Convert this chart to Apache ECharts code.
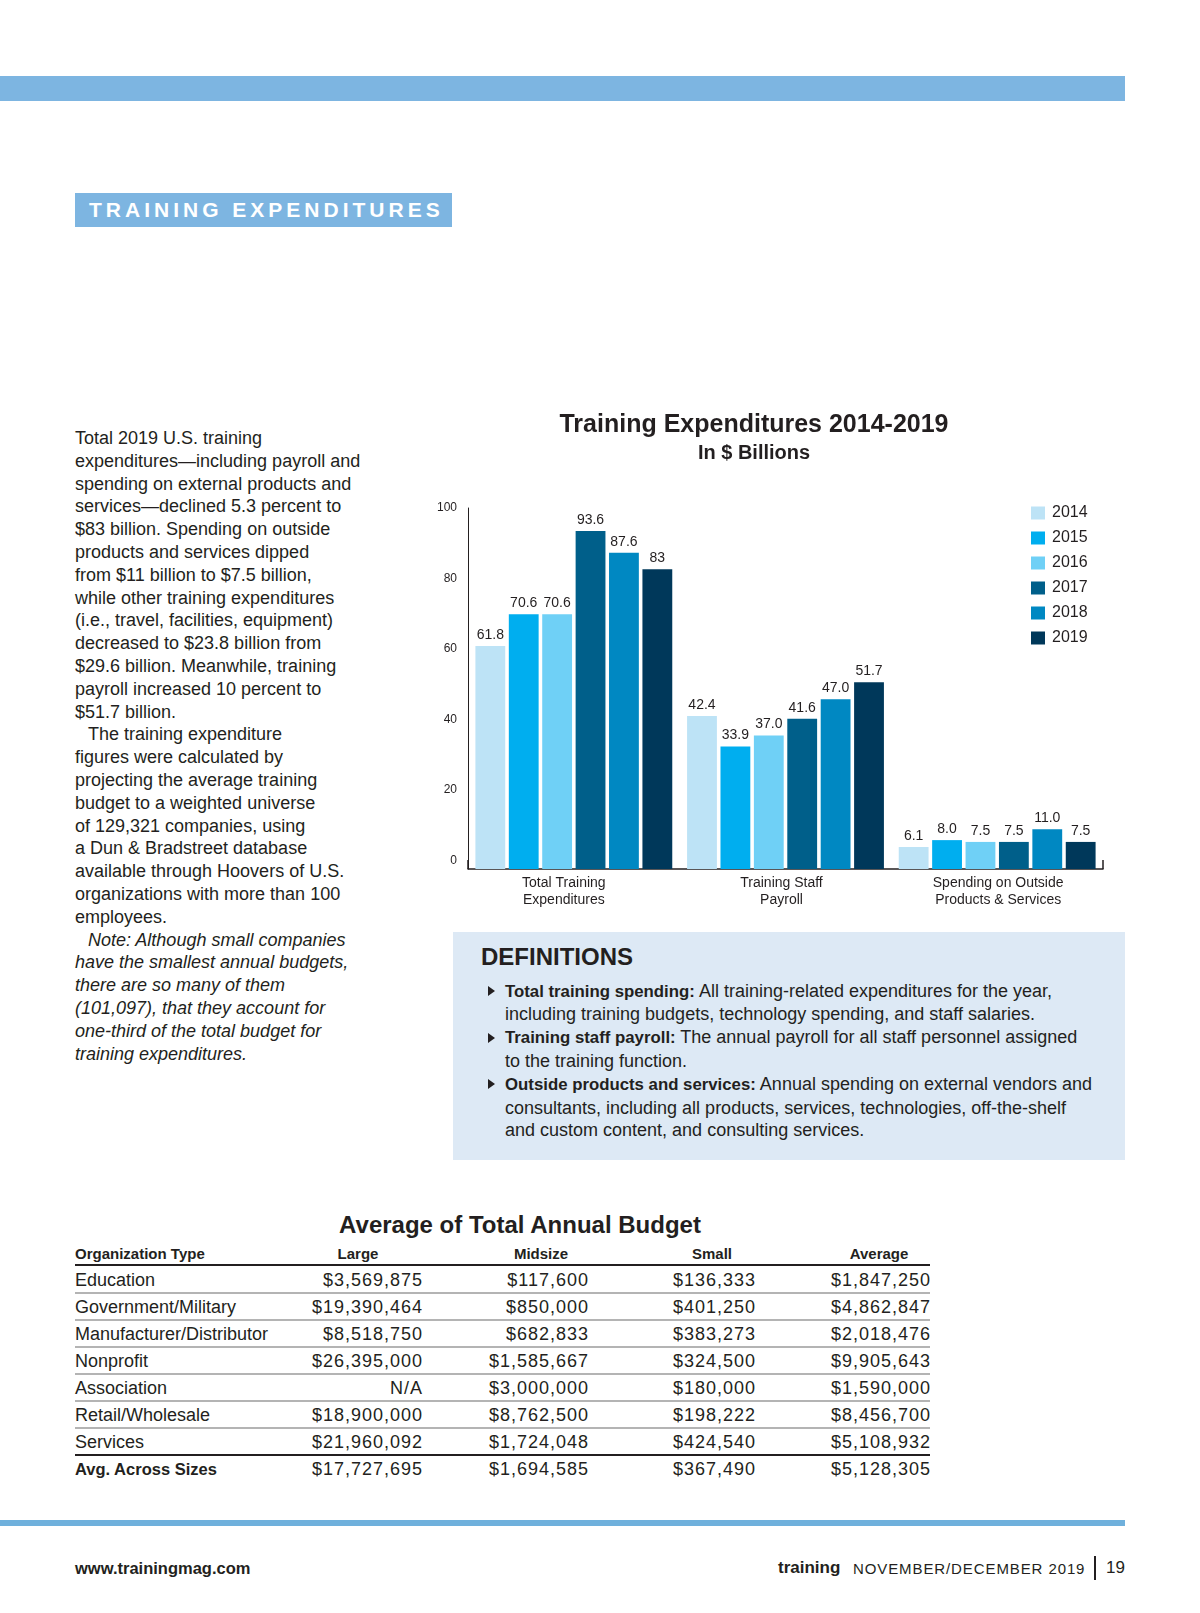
<!DOCTYPE html>
<html>
<head>
<meta charset="utf-8">
<script src="https://cdn.jsdelivr.net/npm/echarts@6/dist/echarts.min.js"></script>
<style>
  html, body { margin: 0; padding: 0; background: #fff; }
  body { width: 1200px; height: 1613px; position: relative; overflow: hidden;
         font-family: 'Liberation Sans', Arial, sans-serif; color: #231f20; }
  .abs { position: absolute; white-space: nowrap; }
  #topbar { left: 0; top: 76px; width: 1125px; height: 25px; background: #7db5e1; }
  #secbox { left: 75px; top: 193px; width: 377px; height: 34px; background: #7db5e1;
            color: #fff; font-weight: bold; font-size: 21px; line-height: 34px;
            letter-spacing: 4px; box-sizing: border-box; padding-left: 14px; }
  #body { left: 75px; top: 427px; font-size: 18px; line-height: 22.8px; }
  #body .ind { padding-left: 13px; }
  #defs { left: 453px; top: 932px; width: 672px; height: 228px; background: #dde9f5; }
  #defs h3 { position: absolute; margin: 0; left: 28px; top: 11px; font-size: 24px; line-height: 28px; font-weight: bold; }
  #defs .items { position: absolute; left: 0; top: 47.6px; font-size: 18px; line-height: 22.8px; }
  #defs .it { position: relative; padding-left: 52px; white-space: nowrap; }
  #defs .it b { font-size: 16.8px; }
  #defs .it::before { content: ''; position: absolute; left: 35px; top: 6.4px; width: 0; height: 0;
            border-left: 7px solid #231f20; border-top: 5px solid transparent; border-bottom: 5px solid transparent; }
  #chart { position: absolute; left: 308px; top: 390px; width: 892px; height: 530px; }
  .tt { font-weight: bold; font-size: 24px; line-height: 30px; }
  .th { font-weight: bold; font-size: 15px; line-height: 20px; }
  .td { font-size: 18px; line-height: 22px; }
  .num { letter-spacing: 1px; }
  .hl { position: absolute; left: 75px; width: 855px; }
  #botbar { left: 0; top: 1520px; width: 1125px; height: 6px; background: #6fb0dc; }
</style>
</head>
<body>
<div class="abs" id="topbar"></div>
<div class="abs" id="secbox">TRAINING EXPENDITURES</div>

<div class="abs" id="body">Total 2019 U.S. training<br>expenditures—including payroll and<br>spending on external products and<br>services—declined 5.3 percent to<br>$83 billion. Spending on outside<br>products and services dipped<br>from $11 billion to $7.5 billion,<br>while other training expenditures<br>(i.e., travel, facilities, equipment)<br>decreased to $23.8 billion from<br>$29.6 billion. Meanwhile, training<br>payroll increased 10 percent to<br>$51.7 billion.<br><span class="ind">The training expenditure</span><br>figures were calculated by<br>projecting the average training<br>budget to a weighted universe<br>of 129,321 companies, using<br>a Dun &amp; Bradstreet database<br>available through Hoovers of U.S.<br>organizations with more than 100<br>employees.<br><i><span class="ind">Note: Although small companies</span><br>have the smallest annual budgets,<br>there are so many of them<br>(101,097), that they account for<br>one-third of the total budget for<br>training expenditures.</i></div>

<div id="chart"></div>

<div class="abs" id="defs">
  <h3>DEFINITIONS</h3>
  <div class="items">
    <div class="it"><b>Total training spending:</b> All training-related expenditures for the year,<br>including training budgets, technology spending, and staff salaries.</div>
    <div class="it"><b>Training staff payroll:</b> The annual payroll for all staff personnel assigned<br>to the training function.</div>
    <div class="it"><b>Outside products and services:</b> Annual spending on external vendors and<br>consultants, including all products, services, technologies, off-the-shelf<br>and custom content, and consulting services.</div>
  </div>
</div>

<div id="table"></div>

<div class="abs" id="botbar"></div>
<div class="abs" style="left:75px; top:1558px; font-weight:bold; font-size:16.5px; line-height:20px;">www.trainingmag.com</div>
<div class="abs" style="left:778px; top:1557px; font-weight:bold; font-size:17px; line-height:22px;">training</div>
<div class="abs" style="left:853px; top:1559px; font-size:15px; line-height:20px; letter-spacing:0.9px;">NOVEMBER/DECEMBER 2019</div>
<div class="abs" style="left:1094px; top:1556px; width:1.5px; height:24px; background:#231f20;"></div>
<div class="abs" style="left:1106px; top:1557px; font-size:17px; line-height:22px;">19</div>

<script>
// ---------- chart data ----------
const years = ['2014', '2015', '2016', '2017', '2018', '2019'];
const categories = ['Total Training\nExpenditures', 'Training Staff\nPayroll', 'Spending on Outside\nProducts & Services'];
const v2014 = ['61.8', '42.4', '6.1'];
const v2015 = ['70.6', '33.9', '8.0'];
const v2016 = ['70.6', '37.0', '7.5'];
const v2017 = ['93.6', '41.6', '7.5'];
const v2018 = ['87.6', '47.0', '11.0'];
const v2019 = ['83', '51.7', '7.5'];
const yTicks = [0, 20, 40, 60, 80, 100];
const yearColors = ['#bde3f6', '#00aeef', '#6fd0f6', '#005f8a', '#0088c2', '#00385a'];

// ---------- table data ----------
const tableTitle = 'Average of Total Annual Budget';
const tableHeaders = ['Organization Type', 'Large', 'Midsize', 'Small', 'Average'];
const orgTypes = ['Education', 'Government/Military', 'Manufacturer/Distributor', 'Nonprofit', 'Association', 'Retail/Wholesale', 'Services', 'Avg. Across Sizes'];
const largeCol = ['$3,569,875', '$19,390,464', '$8,518,750', '$26,395,000', 'N/A', '$18,900,000', '$21,960,092', '$17,727,695'];
const midsizeCol = ['$117,600', '$850,000', '$682,833', '$1,585,667', '$3,000,000', '$8,762,500', '$1,724,048', '$1,694,585'];
const smallCol = ['$136,333', '$401,250', '$383,273', '$324,500', '$180,000', '$198,222', '$424,540', '$367,490'];
const averageCol = ['$1,847,250', '$4,862,847', '$2,018,476', '$9,905,643', '$1,590,000', '$8,456,700', '$5,108,932', '$5,128,305'];

// ---------- build table ----------
(function buildTable() {
  const host = document.getElementById('table');
  const add = (html) => host.insertAdjacentHTML('beforeend', html);
  add(`<div class="abs tt" style="left:0; width:1040px; text-align:center; top:1210px;">${tableTitle}</div>`);
  const headerCenters = [null, 358, 541, 712, 879];
  add(`<div class="abs th" style="left:75px; top:1244px;">${tableHeaders[0]}</div>`);
  for (let c = 1; c < 5; c++) {
    add(`<div class="abs th" style="left:${headerCenters[c] - 60}px; width:120px; text-align:center; top:1244px;">${tableHeaders[c]}</div>`);
  }
  add(`<div class="hl" style="top:1264px; height:2px; background:#231f20;"></div>`);
  const rights = [422, 588, 755, 930];
  const cols = [largeCol, midsizeCol, smallCol, averageCol];
  for (let r = 0; r < orgTypes.length; r++) {
    const cy = 1280 + r * 27;
    const last = r === orgTypes.length - 1;
    add(`<div class="abs td" style="left:75px; top:${cy - 11}px;${last ? ' font-weight:bold; font-size:16.5px;' : ''}">${orgTypes[r]}</div>`);
    for (let c = 0; c < 4; c++) {
      add(`<div class="abs td num" style="left:${rights[c] - 200}px; width:201px; text-align:right; top:${cy - 11}px;">${cols[c][r]}</div>`);
    }
    if (r < orgTypes.length - 2) {
      add(`<div class="hl" style="top:${cy + 12}px; height:2px; background:#b4b4b4;"></div>`);
    } else if (r === orgTypes.length - 2) {
      add(`<div class="hl" style="top:${cy + 12}px; height:2px; background:#231f20;"></div>`);
    }
  }
})();

// ---------- chart ----------
const yearValues = [v2014, v2015, v2016, v2017, v2018, v2019];
const FONT = "'Liberation Sans', Arial, sans-serif";
const TXT = '#231f20';

const chart = echarts.init(document.getElementById('chart'), null, { renderer: 'canvas' });
chart.setOption({
  animation: false,
  textStyle: { fontFamily: FONT, color: TXT },
  title: {
    text: 'Training Expenditures 2014-2019',
    subtext: 'In $ Billions',
    left: 'center',
    top: 20,
    padding: 0,
    itemGap: 1,
    textStyle: { fontFamily: FONT, fontSize: 25, fontWeight: 'bold', color: TXT, lineHeight: 30 },
    subtextStyle: { fontFamily: FONT, fontSize: 20, fontWeight: 'bold', color: TXT, lineHeight: 24 }
  },
  legend: {
    data: years,
    orient: 'vertical',
    left: 723,
    top: 115,
    padding: 0,
    itemWidth: 14,
    itemHeight: 13,
    itemGap: 9,
    icon: 'rect',
    selectedMode: false,
    textStyle: { fontFamily: FONT, fontSize: 16, lineHeight: 16, color: TXT, padding: [0, 0, 0, 2] }
  },
  grid: { left: 160, right: 97, top: 118, bottom: 51 },
  xAxis: {
    type: 'category',
    data: categories,
    axisLine: { onZero: false, lineStyle: { color: TXT, width: 1.5 } },
    axisTick: { show: true, inside: true, length: 9, interval: (i) => i === 0, lineStyle: { color: TXT, width: 1.5 } },
    axisLabel: {
      fontFamily: FONT, fontSize: 14, lineHeight: 17, color: TXT, margin: 6, interval: 0,
      formatter: (v, i) => `{c${i}|${v}}`,
      rich: {
        c0: { fontFamily: FONT, fontSize: 14, lineHeight: 17, color: TXT, padding: [0, 20, 0, 0] },
        c1: { fontFamily: FONT, fontSize: 14, lineHeight: 17, color: TXT, padding: [0, 8, 0, 0] },
        c2: { fontFamily: FONT, fontSize: 14, lineHeight: 17, color: TXT, padding: [0, 0, 0, 2] }
      }
    }
  },
  yAxis: [
    {
      type: 'value', min: 0, max: 100, position: 'left',
      axisLine: { show: true, lineStyle: { color: TXT, width: 1 } },
      axisTick: { show: false }, axisLabel: { show: false }, splitLine: { show: false }
    },
    {
      type: 'value', min: -2.5, max: 100, position: 'left',
      axisLine: { show: false }, axisTick: { show: false }, splitLine: { show: false },
      axisLabel: { customValues: yTicks, fontFamily: FONT, fontSize: 12, color: TXT, margin: 11,
                   formatter: (v) => (v < 0 ? '' : String(v)) }
    }
  ],
  series: years.map((y, i) => ({
    name: y,
    type: 'bar',
    yAxisIndex: 0,
    barCategoryGap: '7%',
    barGap: '12%',
    itemStyle: { color: yearColors[i] },
    label: {
      show: true, position: 'top', distance: 4,
      fontFamily: FONT, fontSize: 14, color: TXT,
      formatter: (p) => yearValues[i][p.dataIndex]
    },
    data: yearValues[i].map(Number)
  }))
});
</script>
</body>
</html>
